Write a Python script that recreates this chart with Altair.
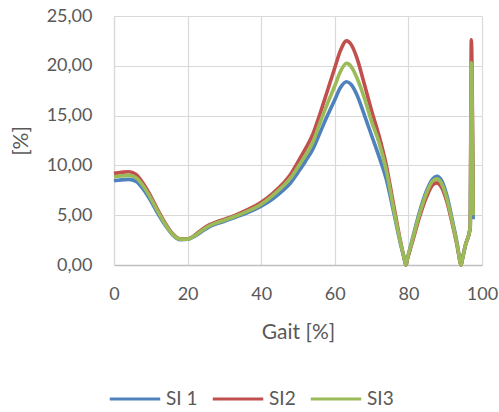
import altair as alt
import pandas as pd

gait = [0, 2, 4, 6, 8, 10, 12, 14, 16, 18, 20, 22, 24, 26, 28, 30, 33, 36, 40, 43, 46, 48,
        50, 52, 54, 56, 58, 60, 61.5, 63.2, 64.5, 66, 68, 70, 72, 74, 76, 78, 78.9, 79.3, 79.7,
        81, 83, 85, 86.5, 87.7, 89, 90.5, 92, 93.5, 93.9, 94.3, 94.7, 95.5, 96.8, 97.1, 97.6]

si1 = [8.45, 8.55, 8.6, 8.4, 7.6, 6.45, 5.1, 3.95, 3.0, 2.55, 2.58, 2.9, 3.4, 3.85, 4.15, 4.4, 4.8, 5.2, 5.9, 6.6, 7.5, 8.25,
       9.3, 10.4, 11.6, 13.3, 15.0, 16.6, 17.8, 18.4, 18.1, 17.1, 15.1, 13.0, 10.9, 8.6, 5.3, 1.9, 0.6, 0.0, 0.6,
       2.5, 5.3, 7.5, 8.6, 8.9, 8.5, 6.9, 4.4, 1.6, 0.6, 0.0, 0.65, 2.0, 3.7, 18.4, 4.6]

si2 = [9.2, 9.3, 9.37, 9.1, 8.15, 6.9, 5.45, 4.15, 3.1, 2.62, 2.62, 3.0, 3.6, 4.05, 4.35, 4.6, 5.0, 5.5, 6.3, 7.15, 8.2, 9.1,
       10.35, 11.65, 13.1, 15.2, 17.5, 19.8, 21.5, 22.5, 22.1, 20.8, 18.2, 15.5, 13.0, 10.0, 6.0, 2.1, 0.6, 0.0, 0.55,
       2.2, 4.8, 6.9, 8.0, 8.25, 7.8, 6.3, 4.0, 1.4, 0.55, 0.0, 0.65, 2.0, 3.8, 22.6, 5.2]

si3 = [8.85, 8.95, 9.0, 8.75, 7.9, 6.7, 5.3, 4.05, 3.05, 2.6, 2.6, 2.95, 3.5, 3.95, 4.25, 4.5, 4.9, 5.35, 6.1, 6.95, 7.95, 8.75,
       9.85, 11.0, 12.3, 14.3, 16.2, 18.0, 19.4, 20.25, 19.9, 18.8, 16.8, 14.4, 12.3, 9.5, 5.6, 2.0, 0.6, 0.0, 0.6,
       2.4, 5.1, 7.3, 8.4, 8.65, 8.2, 6.6, 4.2, 1.5, 0.6, 0.0, 0.65, 2.0, 3.8, 20.3, 5.0]

series_names = ["SI 1", "SI2", "SI3"]
series_colors = ["#4F81BD", "#C0504D", "#9BBB59"]

x_ticks = [0, 20, 40, 60, 80, 100]
y_ticks = [0, 5, 10, 15, 20, 25]

rows = []
for name, vals in zip(series_names, [si1, si2, si3]):
    for xv, yv in zip(gait, vals):
        rows.append({"Gait": xv, "SI": yv, "Series": name})
df = pd.DataFrame(rows)

comma_fmt = "replace(format(datum.value, '.2f'), '.', ',')"
FONT = "Lato"
TXT = "#595959"

chart = alt.Chart(df).mark_line(strokeWidth=3.6, interpolate="monotone").encode(
    x=alt.X("Gait:Q",
            scale=alt.Scale(domain=[0, 100], nice=False),
            axis=alt.Axis(values=x_ticks, title="Gait [%]", format="d",
                          labelFlush=False, labelPadding=20,
                          titleY=67, titleBaseline="middle",
                          domainColor="#BFBFBF", domainWidth=1.3)),
    y=alt.Y("SI:Q",
            scale=alt.Scale(domain=[0, 25], nice=False),
            axis=alt.Axis(values=y_ticks, title="[%]", labelExpr=comma_fmt,
                          labelPadding=22, titleX=-93, titleY=124.5, titleAngle=270,
                          titleBaseline="middle", titleAlign="center",
                          domainColor="#D9D9D9", domainWidth=1.3)),
    color=alt.Color("Series:N",
                    scale=alt.Scale(domain=series_names, range=series_colors),
                    legend=alt.Legend(title=None, orient="none", direction="horizontal",
                                      legendX=-6, legendY=356, columns=3,
                                      symbolType="stroke", symbolSize=2550,
                                      symbolStrokeWidth=3, labelOffset=4,
                                      columnPadding=8)),
).properties(
    width=368, height=249,
    autosize=alt.AutoSizeParams(type="none"),
    padding={"left": 114, "top": 16, "right": 17, "bottom": 147},
).configure_view(
    stroke=None
).configure_axis(
    labelFont=FONT, labelFontSize=18, labelColor=TXT,
    titleFont=FONT, titleFontSize=21, titleColor=TXT, titleFontWeight="normal",
    ticks=False, tickSize=0,
    gridColor="#D9D9D9", gridWidth=1.2,
).configure_legend(
    labelFont=FONT, labelFontSize=19, labelColor=TXT,
)

chart.save("out.html", embed_options={"renderer": "svg", "actions": False})
